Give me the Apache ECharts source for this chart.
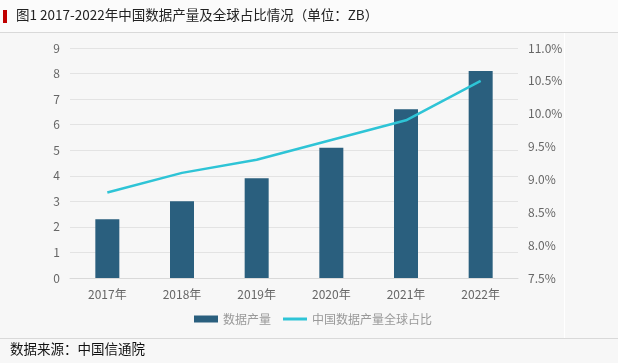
<!DOCTYPE html>
<html><head><meta charset="utf-8">
<script src="https://cdn.jsdelivr.net/npm/echarts@6/dist/echarts.min.js"></script>
<style>html,body{margin:0;padding:0;background:#f7f7f7;}#c{width:618px;height:363px;}</style>
</head><body><div id="c"></div>
<script>
const categories = ['2017年','2018年','2019年','2020年','2021年','2022年'];
const dataVolume = [2.3, 3.0, 3.9, 5.1, 6.6, 8.1];
const globalShare = [8.8, 9.1, 9.3, 9.6, 9.9, 10.5];
const leftTicks = [0,1,2,3,4,5,6,7,8,9];
const rightTicks = [7.5,8.0,8.5,9.0,9.5,10.0,10.5,11.0];
const titleText = '图1 2017-2022年中国数据产量及全球占比情况（单位：ZB）';
const sourceText = '数据来源：中国信通院';

const chart = echarts.init(document.getElementById('c'), null, {renderer:'canvas'});
const font = '"Noto Sans CJK SC", "Noto Sans", sans-serif';
const legendText = {color:'#999', fontSize:12, fontFamily: font};
chart.setOption({
  backgroundColor: '#f7f7f7',
  animation: false,
  graphic: [
    {type:'rect', shape:{x:0,y:0,width:618,height:32}, style:{fill:'#fbfbfb'}, z:-1},
    {type:'rect', shape:{x:3,y:10,width:4,height:13}, style:{fill:'#c00000'}},
    {type:'text', left:16, top:8, style:{text:titleText, fill:'#222', font:'13.5px ' + font}},
    {type:'line', shape:{x1:0,y1:32.5,x2:618,y2:32.5}, style:{stroke:'#d9d9d9', lineWidth:1}},
    {type:'line', shape:{x1:564.5,y1:33,x2:564.5,y2:338}, style:{stroke:'#ffffff', lineWidth:1}},
    {type:'line', shape:{x1:0,y1:338.5,x2:618,y2:338.5}, style:{stroke:'#d9d9d9', lineWidth:1}},
    {type:'text', left:10, top:342, style:{text:sourceText, fill:'#111', font:'13.5px ' + font}}
  ],
  grid: {left:70, right:100, top:48, bottom:85},
  legend: [
    {left:189, top:308, itemWidth:24, itemHeight:7, itemGap:4, textStyle:legendText,
     data:[{name:'数据产量', icon:'rect'}]},
    {left:278, top:308, itemWidth:24, itemHeight:3, itemGap:4, textStyle:legendText,
     data:[{name:'中国数据产量全球占比', icon:'rect'}]}
  ],
  xAxis: {
    type:'category', data: categories,
    axisLine:{lineStyle:{color:'#d9d9d9'}}, axisTick:{show:false},
    axisLabel:{color:'#666', fontSize:12, fontFamily: font, margin:10}
  },
  yAxis: [
    {type:'value', min:leftTicks[0], max:leftTicks[leftTicks.length-1], interval:1,
     axisLine:{show:false}, axisTick:{show:false},
     axisLabel:{color:'#666', fontSize:12, fontFamily: font, margin:10},
     splitLine:{lineStyle:{color:'#e3e3e3'}}},
    {type:'value', min:rightTicks[0], max:rightTicks[rightTicks.length-1], interval:0.5,
     axisLine:{show:false}, axisTick:{show:false},
     axisLabel:{color:'#666', fontSize:12, fontFamily: font, margin:10,
       formatter: v => v.toFixed(1) + '%'},
     splitLine:{show:false}}
  ],
  series: [
    {name:'数据产量', type:'bar', data: dataVolume, barWidth:24, yAxisIndex:0,
     itemStyle:{color:'#2a5f7e'}},
    {name:'中国数据产量全球占比', type:'line', data: globalShare, yAxisIndex:1,
     symbol:'none', lineStyle:{color:'#2ec4d6', width:2.5}, itemStyle:{color:'#2ec4d6'}}
  ]
});
</script></body></html>
